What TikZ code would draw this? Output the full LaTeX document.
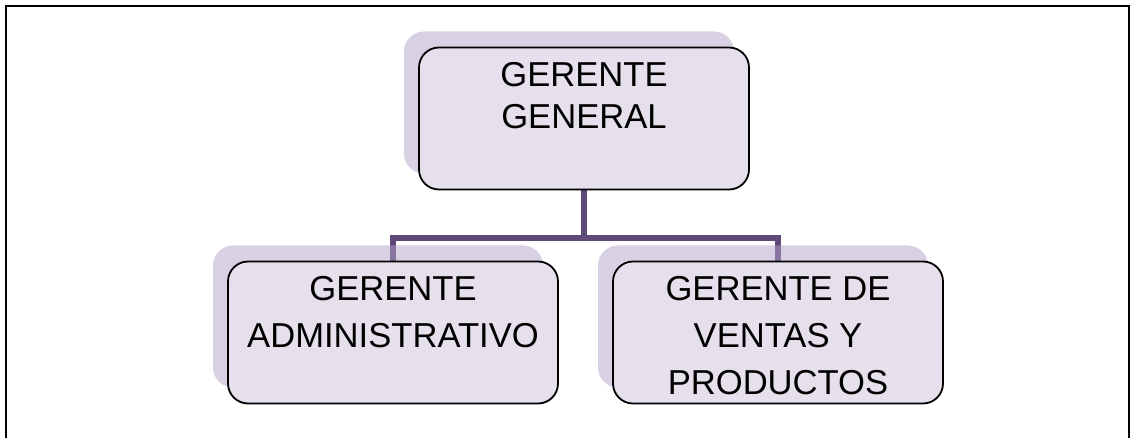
\documentclass[tikz,border=0pt]{standalone}
\usepackage{fontspec}
\setmainfont{Liberation Sans}
\usetikzlibrary{shadows,backgrounds}

\definecolor{boxfill}{HTML}{E5E0EC}
\definecolor{shade}{HTML}{B2A1C7}
\definecolor{linkcol}{HTML}{5F497A}

\begin{document}
\begin{tikzpicture}[x=0.5pt, y=-0.5pt]
    \tikzstyle{box} = [rectangle, rounded corners=10pt, draw=black, line width=0.9pt,
        fill=boxfill, minimum width=165pt, minimum height=71pt, inner sep=0pt,
        drop shadow={shadow xshift=-7.5pt, shadow yshift=8pt, fill=shade, opacity=0.5}]
    \tikzstyle{boxtext} = [anchor=north, inner sep=0pt, align=center]
    \tikzstyle{link} = [draw=linkcol, line width=3pt]

    \useasboundingbox (0,0) rectangle (1131,438);
    \draw [line width=1.2pt] (6,6) rectangle (1129,446);

    \node[box] (gg) at (584, 118.5) {};
    \node[box] (ga) at (393, 332.5) {};
    \node[box] (gv) at (778, 332.5) {};

    \node[boxtext, font=\fontsize{17.3pt}{21pt}\selectfont] (gg-text) at ([yshift=-7.6pt]gg.north) {GERENTE \\ GENERAL};
    \node[boxtext, font=\fontsize{17.3pt}{23.5pt}\selectfont] (ga-text) at ([yshift=-7.6pt]ga.north) {GERENTE \\ ADMINISTRATIVO};
    \node[boxtext, font=\fontsize{17.3pt}{23.5pt}\selectfont] (gv-text) at ([yshift=-7.6pt]gv.north) {GERENTE DE \\ VENTAS Y \\ PRODUCTOS};

    \coordinate (bus) at (584, 238);

    \begin{pgfonlayer}{background}
        \draw [link] (gg.south) -- (bus) -| (ga.north);
        \draw [link] (bus) -| (gv.north);
    \end{pgfonlayer}
\end{tikzpicture}
\end{document}
